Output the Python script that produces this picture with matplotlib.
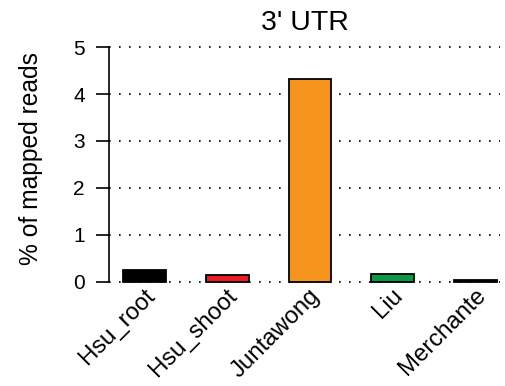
import matplotlib
matplotlib.use('Agg')
import matplotlib.pyplot as plt
import matplotlib.transforms as mtransforms

plt.rcParams['font.family'] = ['Liberation Sans', 'DejaVu Sans']

samples = ['Hsu_root', 'Hsu_shoot', 'Juntawong', 'Liu', 'Merchante']
pct_mapped = [0.26, 0.15, 4.32, 0.17, 0.04]
bar_colors = ['#000000', '#ED1C24', '#F7941D', '#0D9648', '#000000']
y_ticks = [0, 1, 2, 3, 4, 5]

fig = plt.figure(figsize=(5.05, 3.86), dpi=100)
ax = fig.add_axes([0.2158, 0.2573, 0.7743, 0.6331])

xs = list(range(len(samples)))

# dotted reference lines behind the bars
for y in y_ticks:
    ax.axhline(y, color='black', lw=1.2, ls=(0, (1, 5)), zorder=1)

ax.bar(xs, pct_mapped, width=0.515, color=bar_colors,
       edgecolor='black', linewidth=1.3, zorder=2)

ax.set_xlim(-0.432, 4.299)
ax.set_ylim(-0.1, 5.1)

for side in ['top', 'right', 'bottom']:
    ax.spines[side].set_visible(False)
ax.spines['left'].set_bounds(0, 5)
ax.spines['left'].set_linewidth(1.2)

ax.set_yticks(y_ticks)
ax.tick_params(axis='y', length=9.5, width=1.2, pad=8, labelsize=15)
ax.set_xticks(xs)
ax.set_xticklabels(samples, rotation=45, ha='right', rotation_mode='anchor',
                   fontsize=17.2)
ax.tick_params(axis='x', length=0, pad=-1.5)
shift = mtransforms.ScaledTranslation(-1 / 100, 0, fig.dpi_scale_trans)
for lbl in ax.get_xticklabels():
    lbl.set_transform(lbl.get_transform() + shift)

ax.set_ylabel('% of mapped reads', fontsize=17.7)
ax.yaxis.set_label_coords(-0.169, 0.5245)
ax.set_title("3' UTR", fontsize=20.5, pad=9)

fig.savefig('out.png', dpi=100)
